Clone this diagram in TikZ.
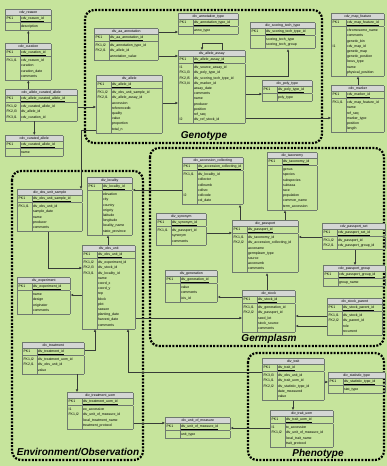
\documentclass[tikz,border=0pt]{standalone}
\usepackage{fontspec}
\setmainfont{Liberation Sans}
\usepackage{colortbl}
\usetikzlibrary{calc}
\usetikzlibrary{arrows.meta}

\definecolor{bggreen}{RGB}{198,228,156}
\definecolor{headgray}{RGB}{212,214,212}
\definecolor{tabline}{RGB}{110,120,110}
\definecolor{linkgray}{RGB}{55,60,55}

\newcommand{\tabfont}{\fontsize{3.5}{5.2}\selectfont}
\newcommand{\erTable}[6]{%
\node[ertable] (#1) at (#2) {\arrayrulecolor{tabline}\setlength{\tabcolsep}{1pt}%
\begin{tabular}{|p{12pt}|p{#3pt}|}
\hline
\rowcolor{headgray}\multicolumn{2}{|c|}{\rule[-1.6pt]{0pt}{5.4pt}#4}\\\hline
\rule[-2.6pt]{0pt}{6.6pt}PK1 & \underline{#5}\\\hline
\rule{0pt}{5.2pt}#6\\[1pt]\hline
\end{tabular}};}

\tikzset{
  ertable/.style={anchor=north west, inner sep=0pt, font=\tabfont},
  fklink/.style={draw=linkgray, line width=0.5pt, -{Latex[length=2.6pt,width=2.6pt]}},
  region/.style={draw=black, line width=2.2pt, dash pattern=on 2pt off 1.4pt, rounded corners=9pt},
  regionlabel/.style={font=\fontsize{10}{12}\selectfont\bfseries\itshape, inner sep=0pt}
}

\begin{document}
\begin{tikzpicture}[x=1pt,y=-1pt]
\fill[bggreen] (0,0) rectangle (387,466);
\useasboundingbox (0,0) rectangle (387,466);

\draw[region] (85,10) rectangle (322,143);
\draw[region] (150,148) rectangle (384,346);
\draw[region] (12,171) rectangle (143,460);
\draw[region] (248,353) rectangle (384,460);
\node[regionlabel] (genolabel) at (204,136) {Genotype};
\node[regionlabel] (germlabel) at (269,339) {Germplasm};
\node[regionlabel] (envlabel) at (78,452) {Environment/Observation};
\node[regionlabel] (phenolabel) at (318,454) {Phenotype};

\erTable{reason}{5,9}{29}{cdv\_reason}{cdv\_reason\_id}{ & description}
\erTable{curation}{5,43}{29}{cdv\_curation}{cdv\_curation\_id}{FK1,I1 & cdv\_reason\_id\\ & curation\\ & curation\_date\\ & comments}
\erTable{allelecur}{5,89}{55}{cdv\_allele\_curated\_allele}{cdv\_allele\_curated\_allele\_id}{FK1,I2 & cdv\_curated\_allele\_id\\ FK2,I3 & div\_allele\_id\\ FK3,I1 & cdv\_curation\_id}
\erTable{curated}{5,135}{41}{cdv\_curated\_allele}{cdv\_curated\_allele\_id}{ & name}

\erTable{aaanno}{94,28}{47}{div\_aa\_annotation}{div\_aa\_annotation\_id}{FK1,I2 & div\_annotation\_type\_id\\ FK2,I1 & div\_allele\_id\\ & annotation\_value}
\erTable{annotype}{178,13}{43}{div\_annotation\_type}{div\_annotation\_type\_id}{ & anno\_type}
\erTable{assay}{178,50}{50}{div\_allele\_assay}{div\_allele\_assay\_id}{I1 & div\_source\_assay\_id\\ FK1,I3 & div\_poly\_type\_id\\ FK2,I5 & div\_scoring\_tech\_type\_id\\ FK3,I4 & div\_marker\_id\\ & assay\_date\\ & comments\\ & name\\ & producer\\ & position\\ & ref\_seq\\ I2 & div\_ref\_stock\_id}
\erTable{scoring}{250,22}{48}{div\_scoring\_tech\_type}{div\_scoring\_tech\_type\_id}{ & scoring\_tech\_type\\ & scoring\_tech\_group}
\erTable{allele}{96,75}{49}{div\_allele}{div\_allele\_id}{FK1,I2 & div\_obs\_unit\_sample\_id\\ FK2,I1 & div\_allele\_assay\_id\\ & accession\\ & referencedb\\ & quality\\ & value\\ & proportion\\ & total\_n}
\erTable{polytype}{262,80}{33}{div\_poly\_type}{div\_poly\_type\_id}{ & poly\_type}
\erTable{mapfeat}{331,13}{36}{cdv\_map\_feature}{cdv\_map\_feature\_id}{ & chromosome\_name\\ & comments\\ & genetic\_bin\\ I1 & cdv\_map\_id\\ & genetic\_map\\ & genetic\_position\\ & locus\_type\\ & name\\ & physical\_position}
\erTable{marker}{331,85}{36}{cdv\_marker}{cdv\_marker\_id}{FK1,I1 & cdv\_map\_feature\_id\\ & name\\ & ref\_seq\\ & marker\_type\\ & position\\ & length}

\erTable{acccoll}{182,157}{44}{div\_accession\_collecting}{div\_accession\_collecting\_id}{FK1,I1 & div\_locality\_id\\ & collector\\ & collnumb\\ & collsrc\\ I2 & collcode\\ & col\_date}
\erTable{taxonomy}{267,152}{33}{div\_taxonomy}{div\_taxonomy\_id}{ & genus\\ & species\\ & subspecies\\ & subtaxa\\ & race\\ & population\\ & common\_name\\ & term\_accession}
\erTable{synonym}{156,213}{33}{div\_synonym}{div\_synonym\_id}{FK1,I1 & div\_passport\_id\\ & synonym\\ & comments}
\erTable{passport}{232,220}{49}{div\_passport}{div\_passport\_id}{FK1,I1 & div\_taxonomy\_id\\ FK2,I2 & div\_accession\_collecting\_id\\ & accename\\ & germplasm\_type\\ & source\\ & accenumb\\ & comments}
\erTable{passset}{322,223}{46}{cdv\_passport\_set}{cdv\_passport\_set\_id}{FK1,I2 & div\_passport\_id\\ FK2,I1 & cdv\_passport\_group\_id}
\erTable{passgroup}{323,265}{45}{cdv\_passport\_group}{cdv\_passport\_group\_id}{ & group\_name}
\erTable{generation}{165,270}{35}{div\_generation}{div\_generation\_id}{ & value\\ & comments\\ & icis\_id}
\erTable{stock}{242,290}{36}{div\_stock}{div\_stock\_id}{FK1,I1 & div\_generation\_id\\ FK2,I2 & div\_passport\_id\\ & seed\_lot\\ & stock\_source\\ & comments}
\erTable{stockpar}{327,298}{38}{div\_stock\_parent}{div\_stock\_parent\_id}{FK1,I1 & div\_stock\_id\\ FK2,I2 & div\_parent\_id\\ & role\\ & recurrent}

\erTable{obssample}{17,189}{48}{div\_obs\_unit\_sample}{div\_obs\_unit\_sample\_id}{FK1,I1 & div\_obs\_unit\_id\\ & sample\_date\\ & name\\ & producer\\ & comments}
\erTable{locality}{87,177}{28}{div\_locality}{div\_locality\_id}{ & elevation\\ & city\\ & country\\ & origcty\\ & latitude\\ & longitude\\ & locality\_name\\ & state\_province}
\erTable{obsunit}{82,245}{36}{div\_obs\_unit}{div\_obs\_unit\_id}{FK1,I2 & div\_experiment\_id\\ FK2,I3 & div\_stock\_id\\ FK3,I1 & div\_locality\_id\\ & name\\ & coord\_x\\ & coord\_y\\ & rep\\ & block\\ & plot\\ & season\\ & planting\_date\\ & harvest\_date\\ & comments}
\erTable{experiment}{17,277}{36}{div\_experiment}{div\_experiment\_id}{ & name\\ & design\\ & originator\\ & comments}
\erTable{treatment}{22,342}{45}{div\_treatment}{div\_treatment\_id}{FK1,I2 & div\_treatment\_uom\_id\\ FK2,I1 & div\_obs\_unit\_id\\ & value}
\erTable{treatuom}{67,392}{49}{div\_treatment\_uom}{div\_treatment\_uom\_id}{I1 & eo\_accession\\ FK1,I2 & div\_unit\_of\_measure\_id\\ & local\_treatment\_name\\ & treatment\_protocol}
\erTable{uom}{165,417}{48}{div\_unit\_of\_measure}{div\_unit\_of\_measure\_id}{ & unit\_type}

\erTable{trait}{262,358}{45}{div\_trait}{div\_trait\_id}{FK3,I3 & div\_obs\_unit\_id\\ FK1,I1 & div\_trait\_uom\_id\\ FK2,I2 & div\_statistic\_type\_id\\ & date\_measured\\ & value}
\erTable{stattype}{328,372}{40}{div\_statistic\_type}{div\_statistic\_type\_id}{ & stat\_type}
\erTable{traituom}{270,410}{46}{div\_trait\_uom}{div\_trait\_uom\_id}{I1 & to\_accession\\ FK1,I2 & div\_unit\_of\_measure\_id\\ & local\_trait\_name\\ & trait\_protocol}

\draw[fklink] (curation.north) -- (reason.south);
\draw[fklink] (allelecur.north -| curation.south) -- (curation.south);
\draw[fklink] (allelecur.south -| curated.north) -- (curated.north);
\draw[fklink] (allelecur.east |- 0,107) -- (allele.west |- 0,107);
\draw[fklink] (aaanno.east |- 0,32) -- (annotype.west |- 0,32);
\draw[fklink] (aaanno.east |- 0,56) -- (assay.west |- 0,56);
\draw[fklink] (allele.east |- 0,103) -- (assay.west |- 0,103);
\draw[fklink] (assay.north -| 222,0) -- (222,43) -| (assay.north -| 202,0);
\draw[fklink] (assay.east |- 0,76) -| (scoring.south -| 288,0);
\draw[fklink] (assay.east |- 0,94) -- (polytype.west |- 0,94);
\draw[fklink] (assay.east |- 0,118) -- (marker.west |- 0,118);
\draw[fklink] (marker.north -| 358,0) -- (mapfeat.south -| 358,0);
\draw[fklink] (allele.west |- 0,130) -| (obssample.north -| 81,0);
\draw[fklink] (acccoll.west |- 0,190) -- (locality.east |- 0,190);
\draw[fklink] (passport.north -| 240,0) -- (acccoll.south -| 240,0);
\draw[fklink] (synonym.east |- 0,233) -- (passport.west |- 0,233);
\draw[fklink] (passport.north -| 285,0) -- (taxonomy.south -| 285,0);
\draw[fklink] (passset.west |- 0,237) -- (passport.east |- 0,237);
\draw[fklink] (passset.south -| 355,0) -- (passgroup.north -| 355,0);
\draw[fklink] (stock.north -| 267,0) -- (passport.south -| 267,0);
\draw[fklink] (stockpar.west |- 0,316) -- (stock.east |- 0,316);
\draw[fklink] (stockpar.west |- 0,326) -- (stock.east |- 0,326);
\draw[fklink] (stock.west |- 0,297) -- (generation.east |- 0,297);
\draw[fklink] (obsunit.east |- 0,318) -- (stock.west |- 0,318);
\draw[fklink] (obsunit.north -| 108,0) -- (locality.south -| 108,0);
\draw[fklink] (obssample.south -| 48,0) |- (obsunit.west |- 0,268);
\draw[fklink] (obsunit.west |- 0,295) -- (experiment.east |- 0,295);
\draw[fklink] (treatment.east |- 0,350) -| (obsunit.south -| 95,0);
\draw[fklink] (trait.west |- 0,372) -| (obsunit.south -| 128,0);
\draw[fklink] (treatment.south -| 77,0) -- (treatuom.north -| 77,0);
\draw[fklink] (treatuom.east |- 0,423) -- (uom.west |- 0,423);
\draw[fklink] (traituom.west |- 0,428) -- (uom.east |- 0,428);
\draw[fklink] (trait.south -| 293,0) -- (traituom.north -| 293,0);
\draw[fklink] (trait.east |- 0,382) -- (stattype.west |- 0,382);
\end{tikzpicture}
\end{document}
